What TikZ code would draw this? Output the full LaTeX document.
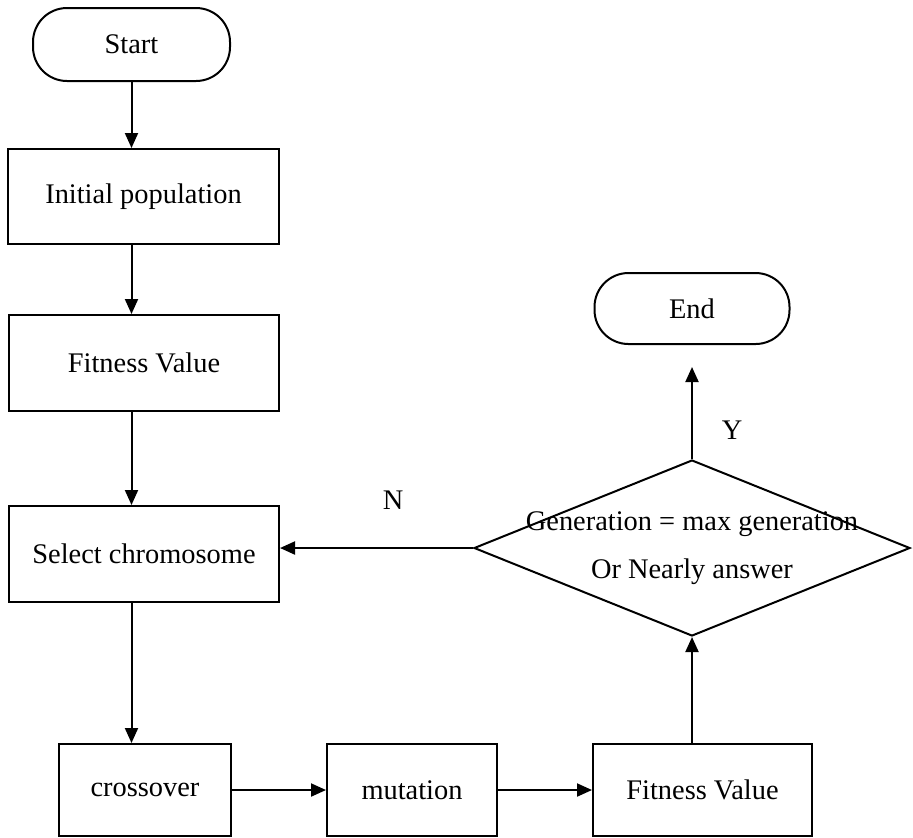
\documentclass[tikz,border=0pt]{standalone}
\usepackage{fontspec}
\setmainfont{Liberation Serif}
\usetikzlibrary{positioning, calc, shapes.geometric, arrows.meta}

\begin{document}
\begin{tikzpicture}[x=0.5pt, y=-0.5pt, line width=1pt,
	box/.style={draw, rectangle, inner sep=0pt, font=\fontsize{14.2}{17}\selectfont},
	term/.style={box, rounded corners=17pt},
	dec/.style={draw, diamond, inner sep=0pt},
	arr/.style={-{Triangle[length=7.5pt, width=6.5pt]}},
	lbl/.style={font=\fontsize{14.2}{17}\selectfont}]
			\useasboundingbox (0,0) rectangle (913,837);
			\node (start) [term, minimum width=98.5pt, minimum height=36.5pt] at (131.5,44.5) {Start};
			\node (init) [box, minimum width=135.5pt, minimum height=47.5pt] at (143.5,196.5) {Initial population};
			\node (fit1) [box, minimum width=135pt, minimum height=48pt] at (144,363) {Fitness Value};
			\node (sel) [box, minimum width=135pt, minimum height=48pt] at (144,554) {Select chromosome};
			\node (cross) [box, minimum width=86pt, minimum height=46pt] at (145,790) {crossover};
			\node (mut) [box, minimum width=85pt, minimum height=46pt] at (412,790) {mutation};
			\node (fit2) [box, minimum width=109.5pt, minimum height=46pt] at (702.5,790) {Fitness Value};
			\node (dia) [dec, minimum width=218pt, minimum height=88pt] at (692,548) {};
			\node (diatext) [lbl, align=center, font=\fontsize{14.2}{24}\selectfont] at (dia.center) {Generation = max generation\\Or Nearly answer};
			\node (end) [term, minimum width=97.5pt, minimum height=35.5pt] at (692,308.5) {End};
			\node (yes) [lbl] at (732,430) {Y};
			\node (no) [lbl] at (393,500) {N};
			
			\draw [arr] (start.south) -- (start.south |- init.north);
			\draw [arr] (start.south |- init.south) -- (start.south |- fit1.north);
			\draw [arr] (start.south |- fit1.south) -- (start.south |- sel.north);
			\draw [arr] (start.south |- sel.south) -- (start.south |- cross.north);
			
			\draw [arr] (cross.east) -- (mut.west);
			\draw [arr] (mut.east) -- (fit2.west);
			\draw [arr] (dia.south |- fit2.north) -- (dia.south);
			\draw [arr, shorten >=11pt] (dia.north) -- (end.south);
			\draw [arr] (dia.west) -- (dia.west -| sel.east);
		\end{tikzpicture}
\end{document}
